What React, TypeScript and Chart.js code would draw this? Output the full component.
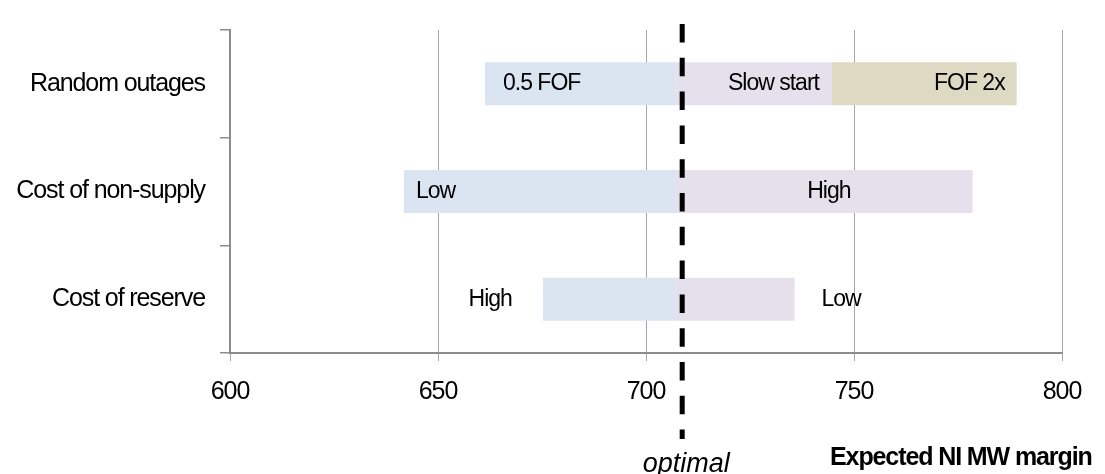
import { useEffect, useRef } from 'react';
import { Chart, registerables } from 'chart.js';

Chart.register(...registerables);

// Sensitivity of the expected NI MW margin to each assumption
const categories = ['Random outages', 'Cost of non-supply', 'Cost of reserve'];
const optimalMargin = 708.7;
const downsideRange: [number, number][] = [[661.3, 707], [641.8, 707], [675.2, 707]];
const upsideRange: [number, number][] = [[707, 744.7], [707, 778.5], [707, 735.7]];
const extraRange: ([number, number] | null)[] = [[744.7, 789.1], null, null];
const downsideLabels = ['0.5 FOF', 'Low', 'High'];
const upsideLabels = ['Slow start', 'High', 'Low'];
const extraLabels = ['FOF 2x', '', ''];
const xMin = 600;
const xMax = 800;
const xStep = 50;

const FONT = '"Liberation Sans", Arial, Helvetica, sans-serif';
const AXIS_SPACING = '-1.1px';
const BAR_SPACING = '-1px';

// Where each text label sits relative to its bar
const downsidePlacement = [
  { anchor: 'inStart', gap: 18 },
  { anchor: 'inStart', gap: 12 },
  { anchor: 'outStart', gap: 31 },
];
const upsidePlacement = [
  { anchor: 'inEnd', gap: 13 },
  { anchor: 'center', gap: 5 },
  { anchor: 'outEnd', gap: 27 },
];
const extraPlacement = [{ anchor: 'inEnd', gap: 12 }];

const tightText = {
  id: 'tightText',
  beforeLayout(chart: any) {
    chart.ctx.letterSpacing = AXIS_SPACING;
  },
  beforeDraw(chart: any) {
    chart.ctx.letterSpacing = AXIS_SPACING;
  },
};

const barLabels = {
  id: 'barLabels',
  afterDatasetsDraw(chart: any) {
    const ctx = chart.ctx;
    ctx.save();
    ctx.font = `23px ${FONT}`;
    ctx.letterSpacing = BAR_SPACING;
    ctx.fillStyle = '#000';
    ctx.textBaseline = 'middle';
    chart.data.datasets.forEach((ds: any, di: number) => {
      const meta = chart.getDatasetMeta(di);
      meta.data.forEach((el: any, i: number) => {
        const text = ds.labels?.[i];
        const place = ds.placement?.[i];
        if (!text || !place || ds.data[i] == null) return;
        const { x, base, y } = el.getProps(['x', 'base', 'y'], true);
        const left = Math.min(x, base);
        const right = Math.max(x, base);
        let tx = (left + right) / 2;
        let align: CanvasTextAlign = 'center';
        if (place.anchor === 'inStart') {
          tx = left + place.gap;
          align = 'left';
        } else if (place.anchor === 'outStart') {
          tx = left - place.gap;
          align = 'right';
        } else if (place.anchor === 'inEnd') {
          tx = right - place.gap;
          align = 'right';
        } else if (place.anchor === 'outEnd') {
          tx = right + place.gap;
          align = 'left';
        } else {
          tx = (left + right) / 2 + place.gap;
        }
        ctx.textAlign = align;
        ctx.fillText(text, tx, y);
      });
    });
    ctx.restore();
  },
};

const optimalMarker = {
  id: 'optimalMarker',
  afterDraw(chart: any) {
    const ctx = chart.ctx;
    const { top, bottom } = chart.chartArea;
    const px = chart.scales.x.getPixelForValue(optimalMargin);
    ctx.save();
    ctx.strokeStyle = '#000';
    ctx.lineWidth = 5;
    ctx.setLineDash([18.5, 15.3]);
    ctx.beginPath();
    ctx.moveTo(px, top - 6);
    ctx.lineTo(px, bottom + 86);
    ctx.stroke();
    ctx.setLineDash([]);

    ctx.fillStyle = '#000';
    ctx.textBaseline = 'alphabetic';
    ctx.letterSpacing = '0px';
    ctx.font = `italic 27px ${FONT}`;
    ctx.textAlign = 'center';
    ctx.fillText('optimal', px + 4, 472);

    ctx.letterSpacing = AXIS_SPACING;
    ctx.font = `bold 25px ${FONT}`;
    ctx.textAlign = 'left';
    ctx.fillText('Expected NI MW margin', 830, 465);
    ctx.restore();
  },
};

export default function App() {
  const canvasRef = useRef<HTMLCanvasElement | null>(null);

  useEffect(() => {
    if (!canvasRef.current) return;
    Chart.defaults.font.family = FONT;
    const chart = new Chart(canvasRef.current, {
      type: 'bar',
      data: {
        labels: categories,
        datasets: [
          {
            label: 'Downside',
            data: downsideRange,
            backgroundColor: '#dbe5f1',
            labels: downsideLabels,
            placement: downsidePlacement,
          } as any,
          {
            label: 'Upside',
            data: upsideRange,
            backgroundColor: '#e5e0ec',
            labels: upsideLabels,
            placement: upsidePlacement,
          } as any,
          {
            label: 'Further upside',
            data: extraRange,
            backgroundColor: '#ddd9c3',
            labels: extraLabels,
            placement: extraPlacement,
          } as any,
        ],
      },
      options: {
        indexAxis: 'y',
        responsive: false,
        animation: false,
        events: [],
        layout: { padding: { top: 20, right: 43, bottom: 0, left: 0 } },
        datasets: {
          bar: {
            grouped: false,
            barPercentage: 0.4,
            categoryPercentage: 1,
            borderWidth: 0,
          },
        },
        plugins: {
          legend: { display: false },
          tooltip: { enabled: false },
          title: { display: false },
        },
        scales: {
          x: {
            type: 'linear',
            min: xMin,
            max: xMax,
            ticks: {
              stepSize: xStep,
              padding: 16,
              color: '#000',
              font: { size: 25, family: FONT },
            },
            grid: {
              color: '#a6a6a6',
              lineWidth: 1,
              tickLength: 8,
              drawTicks: true,
            },
            border: { color: '#8c8c8c', width: 2 },
            afterFit(scale: any) {
              scale.height = 121;
            },
          },
          y: {
            type: 'category',
            ticks: {
              padding: 15,
              color: '#000',
              font: { size: 25, family: FONT },
            },
            grid: {
              offset: true,
              drawOnChartArea: false,
              drawTicks: true,
              tickLength: 10,
              color: '#8c8c8c',
              lineWidth: 1.5,
            },
            border: { color: '#8c8c8c', width: 2 },
            afterFit(scale: any) {
              scale.width = 230;
            },
          },
        },
      } as any,
      plugins: [tightText, barLabels, optimalMarker],
    });
    return () => chart.destroy();
  }, []);

  return (
    <div style={{ position: 'absolute', left: 0, top: 0, width: 1105, height: 474, background: '#fff' }}>
      <canvas ref={canvasRef} width={1105} height={474} style={{ display: 'block' }} />
    </div>
  );
}
